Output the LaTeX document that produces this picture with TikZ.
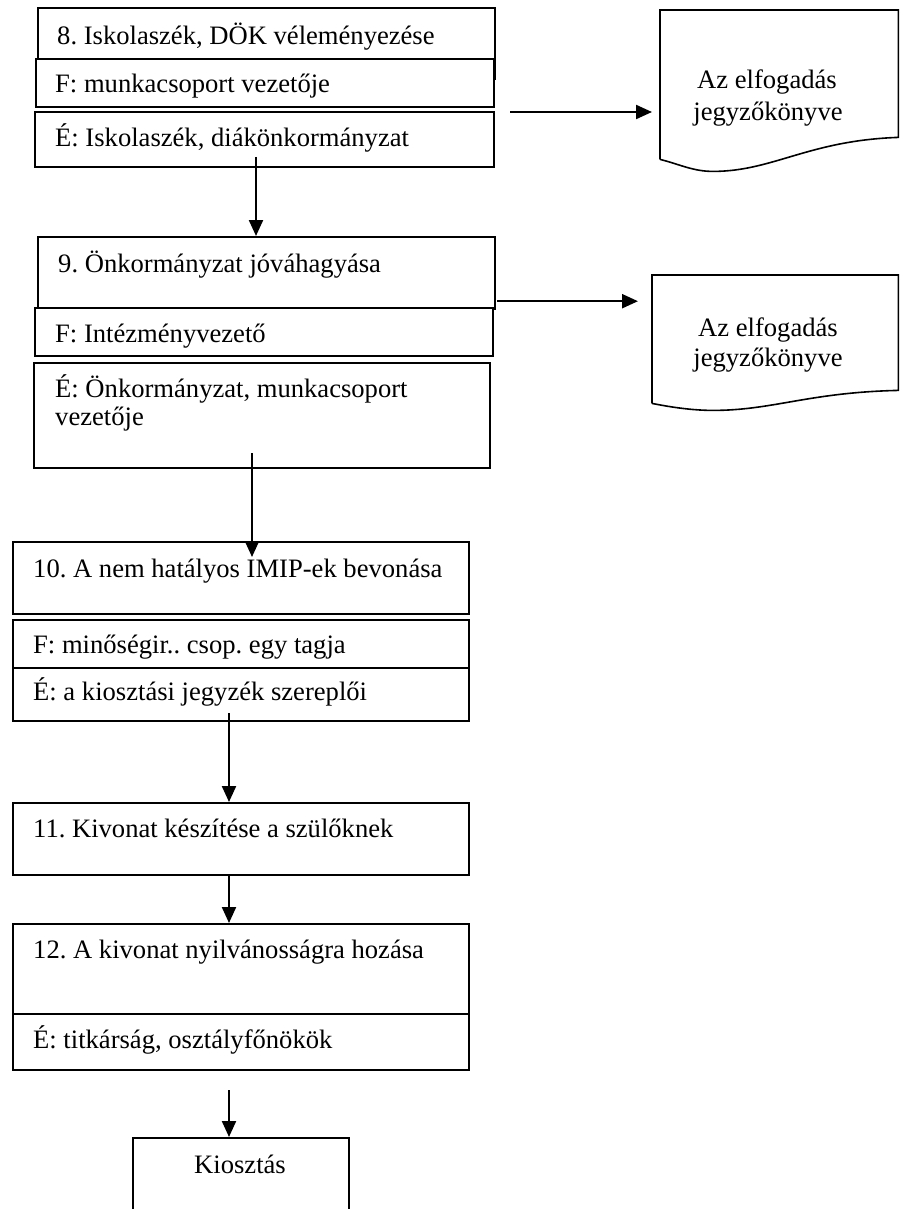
\documentclass[tikz,border=0pt]{standalone}
\usepackage{fontspec}
\setmainfont{Liberation Serif}
\usetikzlibrary{calc,arrows.meta}
\frenchspacing

\tikzset{
  box/.style={draw, line width=2.2pt, fill=white, inner sep=0pt, anchor=north west},
  txt/.style={anchor=base west, inner sep=0pt},
  doctxt/.style={anchor=base, inner sep=0pt},
  docarea/.style={inner sep=0pt, anchor=north west},
  docline/.style={line width=1.6pt},
  arr/.style={line width=2.2pt, -{Triangle[length=16pt,width=14pt]}},
}

\begin{document}
\begin{tikzpicture}[x=1pt, y=-1pt, font=\fontsize{26.6}{30.6}\selectfont]
  \useasboundingbox (0,0) rectangle (902,1209);
  % 8. lepes
  \node[box, minimum width=457pt, minimum height=71pt] (b8) at (37,7) {};
  \node[txt] (t8) at (57,45) {8. Iskolaszék, DÖK véleményezése};
  \node[box, minimum width=458pt, minimum height=48pt] (f8) at (35,58) {};
  \node[txt] (tf8) at (55,93) {F: munkacsoport vezetője};
  \node[box, minimum width=459pt, minimum height=55pt] (e8) at (34,111) {};
  \node[txt] (te8) at (55,147) {É: Iskolaszék, diákönkormányzat};
  % 9. lepes
  \node[box, minimum width=457pt, minimum height=72pt] (b9) at (37,236) {};
  \node[txt] (t9) at (58,272) {9. Önkormányzat jóváhagyása};
  \node[box, minimum width=458pt, minimum height=48pt] (f9) at (34,307) {};
  \node[txt] (tf9) at (55,342) {F: Intézményvezető};
  \node[box, minimum width=456pt, minimum height=105pt] (e9) at (33,362) {};
  \node[txt] (te9a) at (55,397) {É: Önkormányzat, munkacsoport};
  \node[txt] (te9b) at (55,425) {vezetője};
  % 10. lepes
  \node[box, minimum width=456pt, minimum height=72pt] (b10) at (12,541) {};
  \node[txt] (t10) at (33,577) {10. A nem hatályos IMIP-ek bevonása};
  \node[box, minimum width=456pt, minimum height=48pt] (f10) at (12,619) {};
  \node[txt] (tf10) at (33,653) {F: minőségir.. csop. egy tagja};
  \node[box, minimum width=456pt, minimum height=53pt] (e10) at (12,667) {};
  \node[txt] (te10) at (33,700) {É: a kiosztási jegyzék szereplői};
  % 11. lepes
  \node[box, minimum width=456pt, minimum height=72pt] (b11) at (12,802) {};
  \node[txt] (t11) at (33,837) {11. Kivonat készítése a szülőknek};
  % 12. lepes
  \node[box, minimum width=456pt, minimum height=90pt] (b12) at (12,923) {};
  \node[txt] (t12) at (33,958) {12. A kivonat nyilvánosságra hozása};
  \node[box, minimum width=456pt, minimum height=56pt] (e12) at (12,1013) {};
  \node[txt] (te12) at (33,1048) {É: titkárság, osztályfőnökök};
  % kiosztas
  \node[box, minimum width=216pt, minimum height=100pt] (kio) at (132,1137) {};
  \node[doctxt] (tkio) at (240,1173) {Kiosztás};

  % jegyzokonyvek
  \node[docarea, minimum width=238pt, minimum height=127pt] (doc1) at (660,10) {};
  \draw[docline] (doc1.south west) ++(0,22) -- (doc1.north west) -- (doc1.north east) -- (doc1.south east)
    .. controls +(-90,3) and +(60,0) .. ($(doc1.south west)+(53,34)$)
    .. controls +(-20,0) and +(20,5) .. ($(doc1.south west)+(0,22)$);
  \node[doctxt] (d1a) at (767,89) {Az elfogadás};
  \node[doctxt] (d1b) at (768,121) {jegyzőkönyve};

  \node[docarea, minimum width=246pt, minimum height=115pt] (doc2) at (652,275) {};
  \draw[docline] (doc2.south west) ++(0,13) -- (doc2.north west) -- (doc2.north east) -- (doc2.south east)
    .. controls +(-90,2) and +(60,0) .. ($(doc2.south west)+(61,20)$)
    .. controls +(-20,0) and +(20,4) .. ($(doc2.south west)+(0,13)$);
  \node[doctxt] (d2a) at (768,336) {Az elfogadás};
  \node[doctxt] (d2b) at (768,366) {jegyzőkönyve};

  % nyilak
  \coordinate (a8) at (510,112);
  \draw[arr, shorten >=8pt] (a8) -- (a8 -| doc1.west);
  \coordinate (a9) at ($(b9.south east)+(1,-9)$);
  \draw[arr, shorten >=14pt] (a9) -- (a9 -| doc2.west);
  \coordinate (s8) at (256,157);
  \draw[arr] (s8) -- (s8 |- b9.north);
  \coordinate (s9) at (252,453);
  \draw[arr, shorten >=-16pt] (s9) -- (s9 |- b10.north);
  \coordinate (s10) at (229,713);
  \draw[arr] (s10) -- (s10 |- b11.north);
  \draw[arr] (s10 |- b11.south) -- (s10 |- b12.north);
  \coordinate (s12) at (229,1090);
  \draw[arr] (s12) -- (s12 |- kio.north);
\end{tikzpicture}
\end{document}
